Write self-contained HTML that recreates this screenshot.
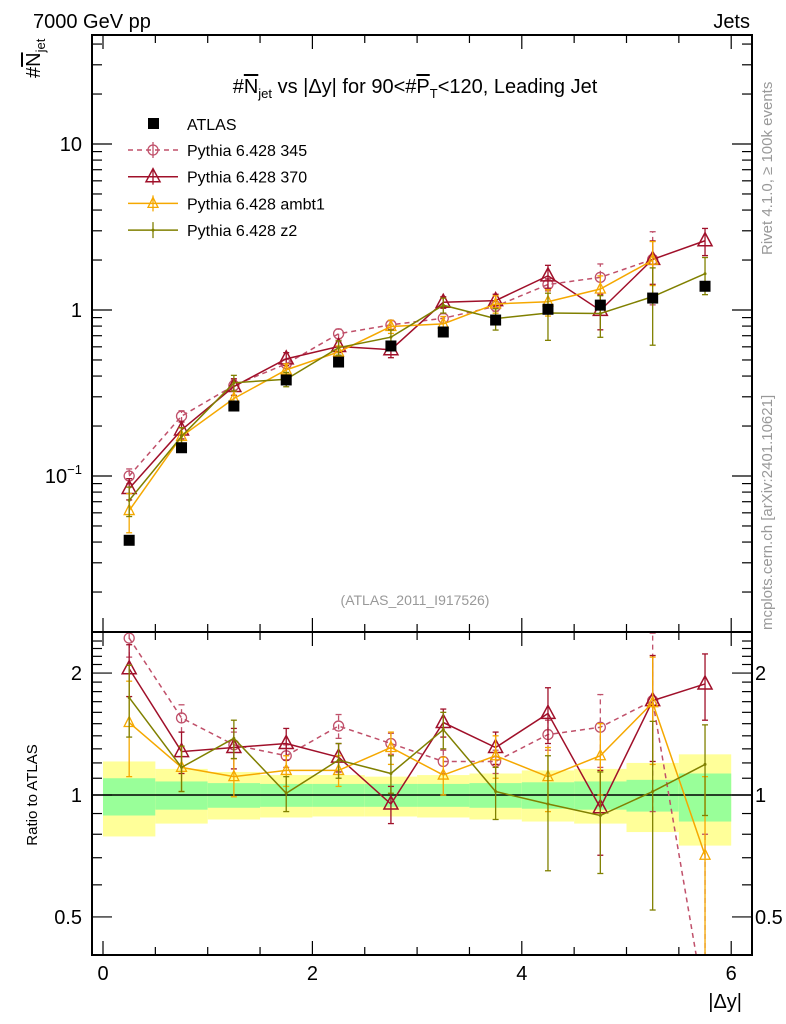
<!DOCTYPE html>
<html><head><meta charset="utf-8"><style>
html,body{margin:0;background:#fff;overflow:hidden;width:786px;height:1024px}
svg{display:block}
svg text{font-family:"Liberation Sans",sans-serif}
</style></head><body>
<svg id="c" width="786" height="1024" xmlns="http://www.w3.org/2000/svg">
<defs>
<clipPath id="cm"><rect x="92" y="35" width="660" height="597"/></clipPath>
<clipPath id="cr"><rect x="92" y="632" width="660" height="323"/></clipPath>
</defs>
<text x="33" y="28" font-size="20">7000 GeV pp</text>
<text x="750" y="28" font-size="20" text-anchor="end">Jets</text>
<text x="415" y="93" font-size="20" text-anchor="middle">#<tspan text-decoration="overline">N</tspan><tspan font-size="13" dy="5">jet</tspan><tspan dy="-5"> vs |Δy| for 90&lt;#</tspan><tspan text-decoration="overline">P</tspan><tspan font-size="13" dy="5">T</tspan><tspan dy="-5">&lt;120, Leading Jet</tspan></text>
<text transform="translate(40,78) rotate(-90)" font-size="20">#<tspan text-decoration="overline">N</tspan><tspan font-size="13" dy="5">jet</tspan></text>
<text transform="translate(772,255) rotate(-90)" font-size="15" fill="#999">Rivet 4.1.0, ≥ 100k events</text>
<text transform="translate(772,630) rotate(-90)" font-size="15" fill="#999">mcplots.cern.ch [arXiv:2401.10621]</text>
<text x="415" y="605" font-size="14" fill="#999" text-anchor="middle">(ATLAS_2011_I917526)</text>
<text transform="translate(37,795) rotate(-90)" font-size="15" text-anchor="middle">Ratio to ATLAS</text>
<text x="742" y="1008" font-size="20" text-anchor="end">|Δy|</text>
<g id="g"></g>
</svg>
<script>
const binLo=[0,0.5,1,1.5,2,2.5,3,3.5,4,4.5,5,5.5];
const binHi=[0.5,1,1.5,2,2.5,3,3.5,4,4.5,5,5.5,6];
const atlas=[0.041,0.148,0.264,0.379,0.486,0.607,0.737,0.87,1.01,1.07,1.18,1.39];
const bandStatUp=[1.10,1.08,1.07,1.065,1.065,1.065,1.065,1.07,1.075,1.08,1.09,1.13];
const bandStatDn=[0.89,0.92,0.93,0.935,0.935,0.935,0.935,0.93,0.925,0.92,0.91,0.86];
const bandTotUp=[1.21,1.16,1.14,1.12,1.12,1.11,1.12,1.13,1.15,1.16,1.20,1.26];
const bandTotDn=[0.79,0.85,0.87,0.88,0.885,0.885,0.88,0.87,0.86,0.85,0.81,0.75];
const r345=[2.44,1.55,1.33,1.25,1.48,1.34,1.21,1.21,1.41,1.47,1.71,0.3];
const r370=[2.05,1.28,1.31,1.34,1.24,0.95,1.51,1.31,1.59,0.93,1.71,1.88];
const rAmbt1=[1.51,1.17,1.11,1.15,1.15,1.31,1.12,1.25,1.11,1.25,1.69,0.71];
const rZ2=[1.74,1.17,1.38,1.01,1.22,1.13,1.45,1.02,0.95,0.89,1.02,1.19];
const e345=[0.25,0.12,0.1,0.08,0.1,0.08,0.08,0.08,0.12,0.3,0.8,0.5];
const e370=[0.3,0.15,0.15,0.12,0.1,0.1,0.12,0.12,0.25,0.22,0.5,0.35];
const eAmbt1=[0.4,0.15,0.12,0.1,0.1,0.12,0.12,0.15,0.2,0.25,0.5,0.4];
const eZ2=[0.35,0.15,0.15,0.1,0.12,0.12,0.15,0.15,0.3,0.25,0.5,0.3];
const xTicks=[0,2,4,6];
const mainTicks=[0.1,1,10];
const ratioTicks=[0.5,1,2];

const X=v=>103+104.7*v;
const YM=v=>310-166*Math.log10(v);
const YR=v=>795-405*Math.log10(v);
const g=document.getElementById('g');
const NS='http://www.w3.org/2000/svg';
function mk(t,a,p){const e=document.createElementNS(NS,t);for(const k in a)e.setAttribute(k,a[k]);(p||g).appendChild(e);return e;}
const mid=binLo.map((l,i)=>(l+binHi[i])/2);

const bandG=mk('g',{});


binLo.forEach((l,i)=>{
 mk('rect',{x:X(l),y:YR(bandTotUp[i]),width:X(binHi[i])-X(l),height:YR(bandTotDn[i])-YR(bandTotUp[i]),fill:'#ffff99'},bandG);
 mk('rect',{x:X(l),y:YR(bandStatUp[i]),width:X(binHi[i])-X(l),height:YR(bandStatDn[i])-YR(bandStatUp[i]),fill:'#99ff99'},bandG);
});
const one=mk('line',{x1:92,x2:752,y1:YR(1),y2:YR(1),stroke:'#000','stroke-width':1.5});



const series=[
 {n:'pythia-345',lab:'Pythia 6.428 345',r:r345,e:e345,c:'#c0506a',d:'5,4',m:'circle',mainN:11},
 {n:'pythia-370',lab:'Pythia 6.428 370',r:r370,e:e370,c:'#a0102a',d:'',m:'tri',mainN:12},
 {n:'pythia-ambt1',lab:'Pythia 6.428 ambt1',r:rAmbt1,e:eAmbt1,c:'#f5a800',d:'',m:'tris',mainN:11},
 {n:'pythia-z2',lab:'Pythia 6.428 z2',r:rZ2,e:eZ2,c:'#808000',d:'',m:'dot',mainN:12}];
function marker(m,x,y,c,p){
 if(m==='circle')mk('circle',{cx:x,cy:y,r:5,fill:'none',stroke:c,'stroke-width':1.3},p);
 else if(m==='tri')mk('polygon',{points:`${x},${y-8} ${x-7},${y+5} ${x+7},${y+5}`,fill:'none',stroke:c,'stroke-width':1.5},p);
 else if(m==='tris')mk('polygon',{points:`${x},${y-6} ${x-5},${y+4} ${x+5},${y+4}`,fill:'none',stroke:c,'stroke-width':1.3},p);
 else mk('circle',{cx:x,cy:y,r:1.5,fill:c},p);
}
series.forEach(s=>{
 [['main','cm',i=>atlas[i]*s.r[i],YM,s.mainN],['ratio','cr',i=>s.r[i],YR,12]].forEach(([pn,cl,val,Y,N])=>{
  const sg=mk('g',{'clip-path':`url(#${cl})`});
  
  
  const ms=mid.slice(0,N);
  const pts=ms.map((m,i)=>X(m)+','+Y(val(i))).join(' ');
  mk('polyline',{points:pts,fill:'none',stroke:s.c,'stroke-width':1.5,'stroke-dasharray':s.d},sg);
  ms.forEach((m,i)=>{
   const v=val(i);
   const lo=Math.max(v-s.e[i]*v/s.r[i],1e-3),hi=v+s.e[i]*v/s.r[i];
   const x=X(m);
   mk('line',{x1:x,x2:x,y1:Y(lo),y2:Y(hi),stroke:s.c,'stroke-width':1.3,'stroke-dasharray':s.d},sg);
   mk('line',{x1:x-3,x2:x+3,y1:Y(lo),y2:Y(lo),stroke:s.c,'stroke-width':1.3},sg);
   mk('line',{x1:x-3,x2:x+3,y1:Y(hi),y2:Y(hi),stroke:s.c,'stroke-width':1.3},sg);
   marker(s.m,x,Y(v),s.c,sg);
  });
 });
});
const ag=mk('g',{});


mid.forEach((m,i)=>{mk('rect',{x:X(m)-5.5,y:YM(atlas[i])-5.5,width:11,height:11,fill:'#000'},ag);});

const fr=mk('g',{});


mk('rect',{x:92,y:35,width:660,height:597,fill:'none',stroke:'#000','stroke-width':2},fr);
mk('rect',{x:92,y:632,width:660,height:323,fill:'none',stroke:'#000','stroke-width':2},fr);
for(let v=0;v<=6.001;v+=0.5){
 const big=Math.abs(v-Math.round(v/2)*2)<1e-6, L=big?14:8;
 [[35,1],[632,-1],[632,1],[955,-1]].forEach(([y,d])=>mk('line',{x1:X(v),x2:X(v),y1:y,y2:y+d*L,stroke:'#000','stroke-width':1.2},fr));
}
for(let d=-2;d<=1;d++)for(let k=1;k<10;k++){const v=k*Math.pow(10,d),y=YM(v);if(y<35||y>632)continue;const L=k===1?20:10;
 mk('line',{x1:92,x2:92+L,y1:y,y2:y,stroke:'#000','stroke-width':1.2},fr);mk('line',{x1:752,x2:752-L,y1:y,y2:y,stroke:'#000','stroke-width':1.2},fr);}
for(let v=0.4;v<=2.5;v+=0.1){const y=YR(v);if(y<633||y>954)continue;const big=[0.5,1,2].some(t=>Math.abs(t-v)<1e-6);const L=big?20:10;
 mk('line',{x1:92,x2:92+L,y1:y,y2:y,stroke:'#000','stroke-width':1.2},fr);mk('line',{x1:752,x2:752-L,y1:y,y2:y,stroke:'#000','stroke-width':1.2},fr);}
xTicks.forEach(v=>{const t=mk('text',{x:X(v),y:980,'font-size':20,'text-anchor':'middle'});t.textContent=v;
 
 });
mainTicks.forEach(v=>{const t=mk('text',{x:82,y:YM(v)+7,'font-size':20,'text-anchor':'end'});
 if(v===0.1){t.innerHTML='10<tspan font-size="13" dy="-9">−1</tspan>';}else t.textContent=v;
 
 });
ratioTicks.forEach(v=>{[[82,'end'],[755,'start']].forEach(([x,a])=>{const t=mk('text',{x:x,y:YR(v)+7,'font-size':20,'text-anchor':a});t.textContent=v;
 
 });});
const lg=mk('g',{});


mk('rect',{x:148,y:118,width:11,height:11,fill:'#000'},lg);
const t0=mk('text',{x:187,y:130,'font-size':16},lg);t0.textContent='ATLAS';
series.forEach((s,i)=>{const y=150+i*26.7;
 const e=mk('g',{},lg);
 
 
 mk('line',{x1:128,x2:178,y1:y,y2:y,stroke:s.c,'stroke-width':1.5,'stroke-dasharray':s.d},e);
 mk('line',{x1:153,x2:153,y1:y-8,y2:y+8,stroke:s.c,'stroke-width':1.3},e);
 marker(s.m,153,y,s.c,e);
 const t=mk('text',{x:187,y:y+6,'font-size':16},e);t.textContent=s.lab;});
</script>
</body></html>
